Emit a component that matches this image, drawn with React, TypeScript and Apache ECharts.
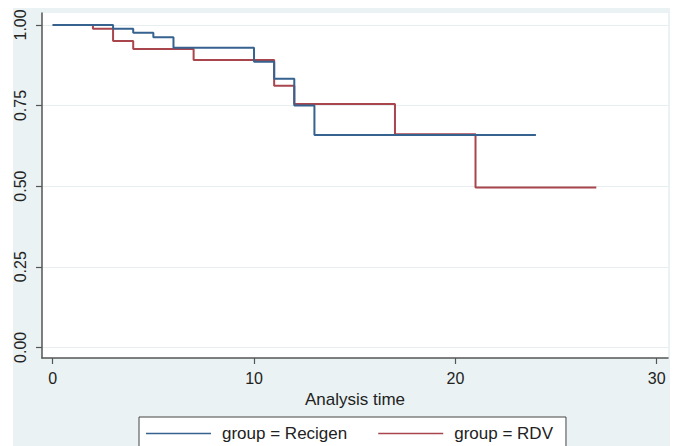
import React, { useEffect, useRef } from "react";
import * as echarts from "echarts";

const recigenTimes = [0, 3, 4, 5, 6, 10, 11, 12, 13, 24];
const recigenSurv = [1, 0.988, 0.976, 0.962, 0.929, 0.886, 0.833, 0.75, 0.659, 0.659];
const rdvTimes = [0, 2, 3, 4, 7, 11, 12, 17, 21, 27];
const rdvSurv = [1, 0.988, 0.95, 0.925, 0.891, 0.811, 0.755, 0.661, 0.496, 0.496];
const xTicks = [0, 10, 20, 30];
const yTicks = [0, 0.25, 0.5, 0.75, 1];
const seriesNames = ["group = Recigen", "group = RDV"];
const xTitle = "Analysis time";

const FONT = "'Liberation Sans', Arial, sans-serif";

export default function App() {
  const ref = useRef<HTMLDivElement>(null);
  useEffect(() => {
    if (!ref.current) return;
    const chart = echarts.init(ref.current, undefined, { renderer: "svg" });
    const pairs = (t: number[], s: number[]) => t.map((v, i) => [v, s[i]]);
    chart.setOption({
      animation: false,
      textStyle: { fontFamily: FONT },
      grid: {
        left: 42,
        right: 11,
        top: 13,
        bottom: 88,
        show: true,
        backgroundColor: "#ffffff",
        borderWidth: 0,
      },
      legend: {
        left: 139,
        top: 417,
        orient: "horizontal",
        padding: [8, 13, 8, 7],
        icon: "rect",
        itemWidth: 65,
        itemHeight: 1.5,
        itemGap: 31,
        backgroundColor: "#ffffff",
        borderColor: "#444444",
        borderWidth: 1,
        borderRadius: 0,
        textStyle: { fontSize: 17, color: "#222222", fontFamily: FONT, padding: [0, 0, 0, 6], lineHeight: 17 },
        data: seriesNames,
      },
      xAxis: {
        type: "value",
        min: -0.53,
        max: 30.56,
        name: xTitle,
        nameLocation: "middle",
        nameGap: 31,
        nameTextStyle: { fontSize: 17, color: "#222222", fontFamily: FONT },
        axisLine: { show: true, onZero: false, lineStyle: { color: "#555555", width: 1.5 } },
        axisTick: { show: true, length: 6, customValues: xTicks, lineStyle: { color: "#555555", width: 1.2 } },
        axisLabel: { customValues: xTicks, fontSize: 16, color: "#222222", margin: 12, fontFamily: FONT },
        splitLine: { show: false },
      },
      yAxis: {
        type: "value",
        min: -0.033,
        max: 1.037,
        axisLine: { show: true, onZero: false, lineStyle: { color: "#555555", width: 1.5 } },
        axisTick: { show: true, length: 6, customValues: yTicks, lineStyle: { color: "#555555", width: 1.2 } },
        axisLabel: {
          customValues: yTicks,
          rotate: 90,
          fontSize: 16,
          color: "#222222",
          margin: 14,
          fontFamily: FONT,
          formatter: (v: number) => v.toFixed(2),
        },
        splitLine: { show: true, lineStyle: { color: "#e6eef0", width: 1.2 } },
      },
      series: [
        {
          name: seriesNames[0],
          type: "line",
          step: "end",
          symbol: "none",
          data: pairs(recigenTimes, recigenSurv),
          lineStyle: { color: "#36628f", width: 2 },
          itemStyle: { color: "#36628f" },
          z: 3,
        },
        {
          name: seriesNames[1],
          type: "line",
          step: "end",
          symbol: "none",
          data: pairs(rdvTimes, rdvSurv),
          lineStyle: { color: "#a8454d", width: 2 },
          itemStyle: { color: "#a8454d" },
          z: 2,
        },
      ],
    });
    return () => chart.dispose();
  }, []);
  return (
    <div style={{ position: "fixed", left: 0, top: 0, width: 679, height: 446, background: "#ffffff", overflow: "hidden" }}>
      <div style={{ position: "absolute", left: 13, top: 8, width: 657, height: 438, background: "#eaf2f3" }} />
      <div ref={ref} style={{ position: "absolute", left: 0, top: 0, width: 679, height: 446 }} />
    </div>
  );
}
